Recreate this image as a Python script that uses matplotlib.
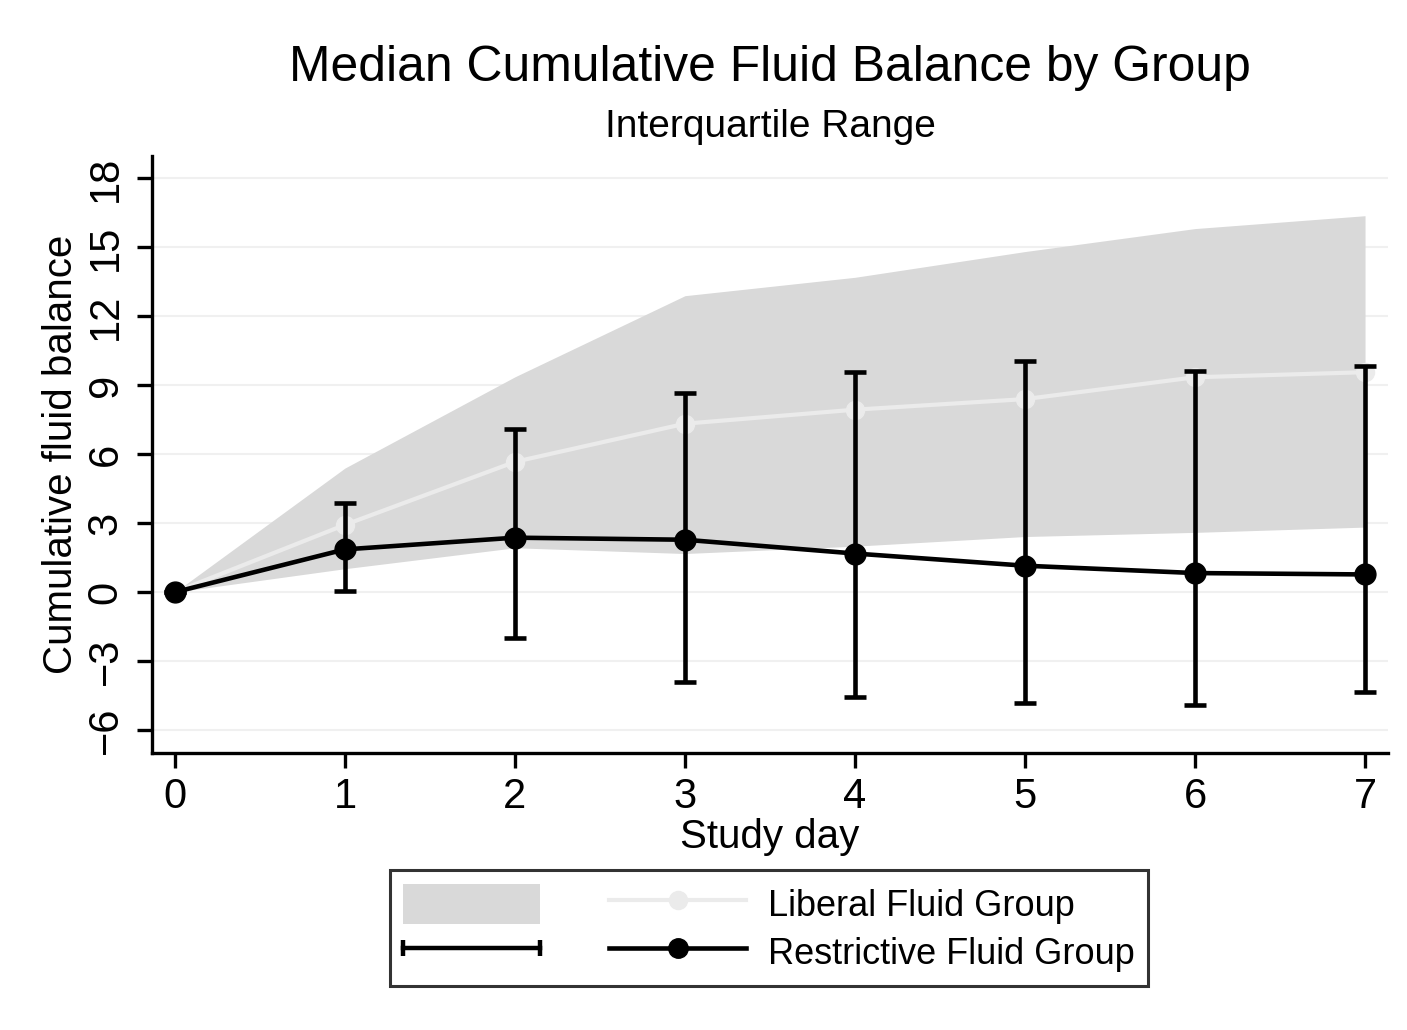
import matplotlib
matplotlib.use("Agg")
import matplotlib.pyplot as plt
from matplotlib.patches import Patch
from matplotlib.lines import Line2D
from matplotlib.legend_handler import HandlerLine2D

plt.rcParams['font.family'] = ['Liberation Sans', 'DejaVu Sans']

days = [0, 1, 2, 3, 4, 5, 6, 7]
# Liberal fluid group
lib_median = [0, 2.93, 5.67, 7.33, 7.94, 8.40, 9.35, 9.57]
lib_q1 = [0, 1.02, 1.93, 1.68, 2.0, 2.42, 2.6, 2.83]
lib_q3 = [0, 5.4, 9.37, 12.9, 13.7, 14.82, 15.82, 16.38]
# Restrictive fluid group
res_median = [0, 1.86, 2.37, 2.28, 1.68, 1.15, 0.83, 0.77]
res_q1 = [0, 0.05, -1.98, -3.93, -4.57, -4.84, -4.92, -4.33]
res_q3 = [0, 3.89, 7.1, 8.65, 9.56, 10.05, 9.62, 9.84]

yticks = [-6, -3, 0, 3, 6, 9, 12, 15, 18]
xticks = days

fig = plt.figure(figsize=(14.07, 10.30), dpi=100)
ax = fig.add_axes([152/1407, 1-753/1030, (1388-152)/1407, (753-155.5)/1030])

fill_col = '#d9d9d9'
lib_col = '#ebebeb'

ax.fill_between(days, lib_q1, lib_q3, color=fill_col, lw=0, zorder=1)
ax.plot(days, lib_median, color=lib_col, lw=3, marker='o', ms=13,
        mec=lib_col, mfc=lib_col, zorder=2)

err_lo = [m - q for m, q in zip(res_median, res_q1)]
err_hi = [q - m for m, q in zip(res_median, res_q3)]
ax.errorbar(days, res_median, yerr=[err_lo, err_hi], fmt='none', ecolor='black',
            elinewidth=3.3, capsize=8, capthick=3.3, zorder=3)
ax.plot(days, res_median, color='black', lw=3.3, marker='o', ms=15, zorder=4)

ax.set_xlim(-0.135, 7.135)
ax.set_ylim(-7, 19)
ax.set_xticks(xticks)
ax.set_yticks(yticks)
ax.set_yticklabels([str(v).replace('-', '\u2212') for v in yticks], rotation=90, va='center')
ax.tick_params(axis='both', labelsize=30, length=11, width=2.4, color='black')
ax.tick_params(axis='x', pad=6)
ax.tick_params(axis='y', pad=8)
for sp in ['top', 'right']:
    ax.spines[sp].set_visible(False)
for sp in ['left', 'bottom']:
    ax.spines[sp].set_linewidth(2.4)
ax.grid(axis='y', color='#f0f0f0', lw=1.5, zorder=0)
ax.set_axisbelow(True)

ax.set_xlabel('Study day', fontsize=29, labelpad=1)
ax.set_ylabel('Cumulative fluid balance', fontsize=29, labelpad=4)

fig.text(770/1407, 1-68/1030, 'Median Cumulative Fluid Balance by Group',
         ha='center', va='center', fontsize=35.8)
fig.text(770/1407, 1-127/1030, 'Interquartile Range', ha='center', va='center', fontsize=28)

# Legend
h_fill = Patch(facecolor=fill_col, edgecolor='none')
h_err = Line2D([], [], color='black', lw=3.2, marker='|', ms=11, mew=3.2)
h_lib = Line2D([], [], color=lib_col, lw=3, marker='o', ms=13, mfc=lib_col, mec=lib_col)
h_res = Line2D([], [], color='black', lw=3.3, marker='o', ms=14)
leg = fig.legend([h_fill, h_err, h_lib, h_res],
                 ['', '', 'Liberal Fluid Group', 'Restrictive Fluid Group'],
                 ncol=2, loc='upper center', bbox_to_anchor=(769/1407, 1-870/1030),
                 fontsize=26, frameon=True, fancybox=False, edgecolor='black',
                 handlelength=3.8, handleheight=1.35, handletextpad=0.6,
                 columnspacing=1.3, labelspacing=0.2, borderpad=0.38, borderaxespad=0,
                 handler_map={h_err: HandlerLine2D(numpoints=2, marker_pad=0),
                              h_lib: HandlerLine2D(numpoints=1),
                              h_res: HandlerLine2D(numpoints=1)})
leg.get_frame().set_linewidth(2.2)

fig.savefig('out.png', dpi=100, facecolor='white')
